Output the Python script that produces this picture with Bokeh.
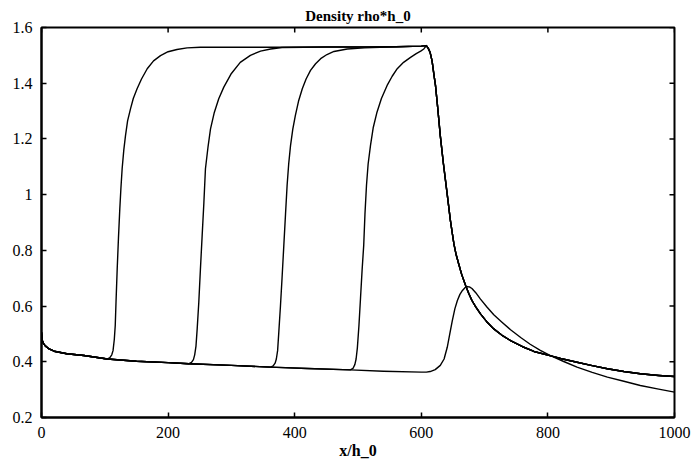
from bokeh.plotting import figure
from bokeh.models import FixedTicker, Range1d
from bokeh.embed import file_html
from bokeh.resources import INLINE

# ---- data ----
x_ticks = [0, 200, 400, 600, 800, 1000]
y_ticks = [0.2, 0.4, 0.6, 0.8, 1.0, 1.2, 1.4, 1.6]
y_tick_labels = ["0.2", "0.4", "0.6", "0.8", "1", "1.2", "1.4", "1.6"]

# shared upstream baseline
base_x = [0, 1, 3, 6, 12, 20, 40, 67, 104, 150, 200, 233, 300, 362, 420, 488, 540, 600]
base_y = [0.506, 0.478, 0.466, 0.457, 0.446, 0.438, 0.429, 0.4225, 0.410, 0.402, 0.397,
          0.393, 0.387, 0.381, 0.376, 0.371, 0.366, 0.363]

# four density fronts (snapshots)
front1_x = [104, 108, 111, 113, 115, 116.5, 117.8, 119.6, 121.6, 123.7, 125.5, 127.4, 130,
            132.7, 136, 140.6, 145, 151, 158, 167, 177, 188, 200, 214, 230, 251]
front1_y = [0.410, 0.415, 0.425, 0.440, 0.480, 0.530, 0.620, 0.734, 0.845, 0.949, 1.025,
            1.093, 1.160, 1.212, 1.265, 1.308, 1.345, 1.380, 1.415, 1.452, 1.480, 1.499,
            1.513, 1.521, 1.527, 1.529]
front2_x = [233, 237, 240, 242, 244, 246, 248.5, 251, 253.8, 256.5, 259, 263, 267, 273, 280,
            288, 300, 314, 330, 346, 362, 380]
front2_y = [0.393, 0.398, 0.408, 0.425, 0.455, 0.520, 0.614, 0.730, 0.853, 0.970, 1.093,
            1.170, 1.236, 1.295, 1.344, 1.386, 1.435, 1.475, 1.500, 1.515, 1.523, 1.528]
front3_x = [362, 366, 369, 371, 373, 375, 377.5, 380, 382.8, 385.5, 388, 390.5, 393.4, 397,
            401, 406, 412, 418, 425, 433, 441, 451, 462, 483, 510]
front3_y = [0.381, 0.385, 0.395, 0.410, 0.440, 0.510, 0.600, 0.700, 0.817, 0.930, 1.033,
            1.110, 1.176, 1.235, 1.284, 1.335, 1.380, 1.415, 1.446, 1.470, 1.488, 1.503,
            1.514, 1.523, 1.527]
front4_x = [488, 492, 495, 497, 499, 501.5, 504, 506.5, 509, 511, 513.4, 516, 519.7, 524,
            530, 537, 546, 554, 562, 572, 583, 592, 599, 604, 608]
front4_y = [0.371, 0.376, 0.390, 0.410, 0.450, 0.530, 0.630, 0.730, 0.817, 0.930, 1.033,
            1.110, 1.176, 1.240, 1.296, 1.345, 1.392, 1.425, 1.452, 1.475, 1.493, 1.506,
            1.515, 1.523, 1.535]

# shared plateau and the drop behind it
plateau_x = [251, 300, 380, 450, 510, 560, 600, 608]
plateau_y = [1.529, 1.529, 1.529, 1.530, 1.530, 1.531, 1.533, 1.535]
drop_x = [608, 611, 614, 617, 620, 622.4, 626, 630, 635, 641, 646, 651.5, 655, 659, 664,
          670, 675, 680, 686, 693.5, 703, 714.5, 727, 741, 760, 778, 800, 820, 846, 870,
          894, 920, 946, 975, 1000]
drop_y = [1.535, 1.525, 1.510, 1.480, 1.430, 1.392, 1.310, 1.212, 1.110, 1.000, 0.907,
          0.823, 0.785, 0.752, 0.712, 0.674, 0.645, 0.620, 0.597, 0.572, 0.545, 0.518,
          0.496, 0.476, 0.454, 0.437, 0.424, 0.412, 0.3985, 0.386, 0.375, 0.365, 0.357,
          0.351, 0.347]

# earliest snapshot: small bump ahead of the plateau
bump_x = [608, 614, 622, 630, 636, 641, 645, 649, 653, 657, 661, 665, 669, 672.5, 676, 680,
          686, 693.5, 704, 714.5, 727, 741, 757, 772, 788, 804, 825, 846, 870, 894, 920,
          946, 975, 1000]
bump_y = [0.3628, 0.365, 0.372, 0.387, 0.410, 0.452, 0.500, 0.548, 0.590, 0.620, 0.642,
          0.656, 0.666, 0.670, 0.669, 0.663, 0.648, 0.625, 0.596, 0.569, 0.543, 0.515,
          0.487, 0.463, 0.441, 0.422, 0.401, 0.381, 0.362, 0.345, 0.330, 0.315, 0.302,
          0.291]

X0, X1, Y0, Y1 = 0, 1000, 0.2, 1.6
W, H = 694, 464
BL, BR, BT, BB = 41, 20, 27, 47

p = figure(width=W, height=H, x_range=Range1d(X0, X1), y_range=Range1d(Y0, Y1),
           output_backend="svg", toolbar_location=None, title="Density rho*h_0",
           min_border_left=BL, min_border_right=BR, min_border_top=BT, min_border_bottom=BB,
           x_axis_label="x/h_0")

FONT = "Liberation Serif"
p.title.align = "center"
p.title.text_font = FONT
p.title.text_font_size = "15px"
p.title.text_font_style = "bold"
p.title.text_color = "black"
p.title.offset = -6
p.title.standoff = 8

p.grid.visible = False
p.outline_line_color = "black"
p.outline_line_width = 2
p.background_fill_color = "white"
p.border_fill_color = "white"

for ax in (p.xaxis[0], p.yaxis[0]):
    ax.major_tick_in = 5
    ax.major_tick_out = 0
    ax.minor_tick_in = 0
    ax.minor_tick_out = 0
    ax.axis_line_color = "black"
    ax.axis_line_width = 2
    ax.major_tick_line_color = "black"
    ax.major_tick_line_width = 1.5
    ax.major_label_text_font = FONT
    ax.major_label_text_font_size = "16px"
    ax.major_label_text_color = "black"
    ax.axis_label_text_font = FONT
    ax.axis_label_text_font_size = "16px"
    ax.axis_label_text_font_style = "bold"
    ax.axis_label_text_color = "black"

xa = p.xaxis[0]
xa.ticker = FixedTicker(ticks=x_ticks)
xa.major_label_standoff = 9
xa.axis_label_standoff = 1

ya = p.yaxis[0]
ya.ticker = FixedTicker(ticks=y_ticks)
ya.major_label_overrides = {t: s for t, s in zip(y_ticks, y_tick_labels)}
ya.major_label_standoff = 9

# mirrored inward ticks on the right and top edges (5 px long)
fw, fh = W - BL - BR, H - BT - BB
dx = 5 * (X1 - X0) / fw
dy = 5 * (Y1 - Y0) / fh
p.segment(x0=[X1] * len(y_ticks), y0=y_ticks, x1=[X1 - dx] * len(y_ticks), y1=y_ticks,
          line_color="black", line_width=1.5)
p.segment(x0=x_ticks, y0=[Y1] * len(x_ticks), x1=x_ticks, y1=[Y1 - dy] * len(x_ticks),
          line_color="black", line_width=1.5)


def build(fx, fy):
    xs = [x for x in base_x if x < fx[0]] + fx
    ys = [y for x, y in zip(base_x, base_y) if x < fx[0]] + fy
    xs += [x for x in plateau_x if x > fx[-1]]
    ys += [y for x, y in zip(plateau_x, plateau_y) if x > fx[-1]]
    dxs = [x for x in drop_x if x > xs[-1]]
    dys = [y for x, y in zip(drop_x, drop_y) if x > xs[-1]]
    return xs + dxs, ys + dys


for fx, fy in [(front1_x, front1_y), (front2_x, front2_y), (front3_x, front3_y), (front4_x, front4_y)]:
    xs, ys = build(fx, fy)
    p.line(xs, ys, line_color="black", line_width=1.4, line_join="round")

p.line(base_x + bump_x, base_y + bump_y, line_color="black", line_width=1.4, line_join="round")

open("out.html", "w").write(file_html(p, INLINE))
